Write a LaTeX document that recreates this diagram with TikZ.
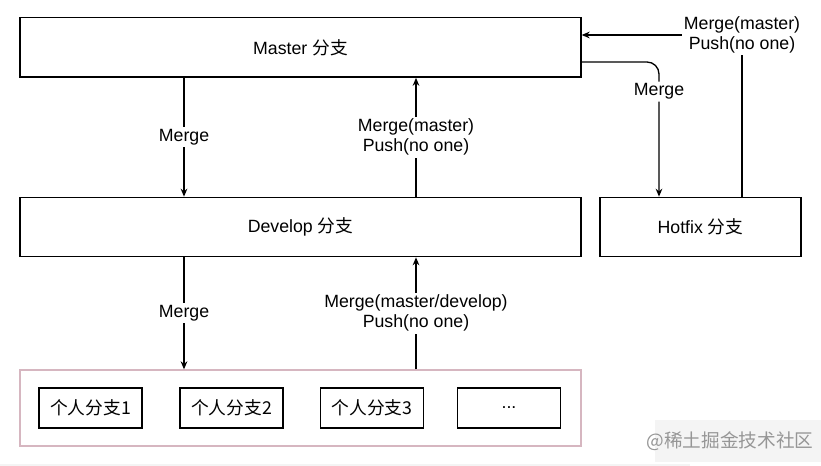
\documentclass[tikz,border=0pt]{standalone}
\usepackage{fontspec}
\setmainfont{Liberation Sans}
\newfontfamily\cjk{Noto Sans CJK SC}
\usetikzlibrary{arrows.meta}
\definecolor{pinkline}{RGB}{214,182,192}
\definecolor{markgray}{RGB}{150,150,150}
\definecolor{markback}{RGB}{244,244,244}

\begin{document}
\begin{tikzpicture}[x=0.75pt,y=0.75pt,yscale=-1,xscale=1,
  box/.style={draw, line width=1pt, inner sep=0pt, font=\fontsize{13.3}{15}\selectfont},
  wide/.style={box, minimum width=420.75pt, minimum height=44.5pt},
  small/.style={box, minimum width=77.25pt, minimum height=30pt},
  arr/.style={line width=1pt, -{Stealth[length=6pt,width=5pt]}},
  lbl/.style={fill=white, inner sep=1.5pt, align=center, font=\fontsize{13.3}{15}\selectfont}]
\useasboundingbox (0,0) rectangle (821,466);

% Boxes
\node [wide] (master) at (300.5,47.5) {Master {\cjk 分支}};
\node [wide] (dev) at (300.5,227) {Develop {\cjk 分支}};
\node [box, minimum width=150.75pt, minimum height=44.5pt] (hot) at (700.5,227) {Hotfix {\cjk 分支}};
\node [wide, draw=pinkline, minimum height=57pt] (team) at (300.5,408) {};
\node [small] (p1) at (90.5,408) {\cjk 个人分支1};
\node [small] (p2) at (231.5,408) {\cjk 个人分支2};
\node [small] (p3) at (372,408) {\cjk 个人分支3};
\node [small] (p4) at (509,408) {...};

% Line positions
\coordinate (lx) at (184,0);
\coordinate (rx) at (416,0);
\coordinate (hx) at (659,0);
\coordinate (hy) at (742,0);
\coordinate (ym) at (0,62);
\coordinate (yt) at (0,35);

% Arrows
\draw [arr] (master.south -| lx) -- (dev.north -| lx) node [lbl, midway] {Merge};
\draw [arr] (dev.north -| rx) -- (master.south -| rx) node [lbl, midway] {Merge(master)\\Push(no one)};
\draw [arr] (dev.south -| lx) -- (team.north -| lx) node [lbl, midway] {Merge};
\draw [arr] (team.north -| rx) -- (dev.south -| rx) node [lbl, midway] {Merge(master/develop)\\Push(no one)};
\draw [arr, rounded corners=9pt] (master.east |- ym) -| (hot.north -| hx) node [lbl, pos=0.61] {Merge};
\draw [arr] (hot.north -| hy) |- (master.east |- yt) node [lbl, pos=0.5] {Merge(master)\\Push(no one)};

% Watermark
\fill [markback] (655,420) rectangle (821,462);
\node [text=markgray, font=\fontsize{14}{16}\selectfont\cjk] (mark) at (730,441) {@稀土掘金技术社区};
\draw [markback, line width=1.5pt] (0,464.5) -- (690,464.5);

\end{tikzpicture}
\end{document}
